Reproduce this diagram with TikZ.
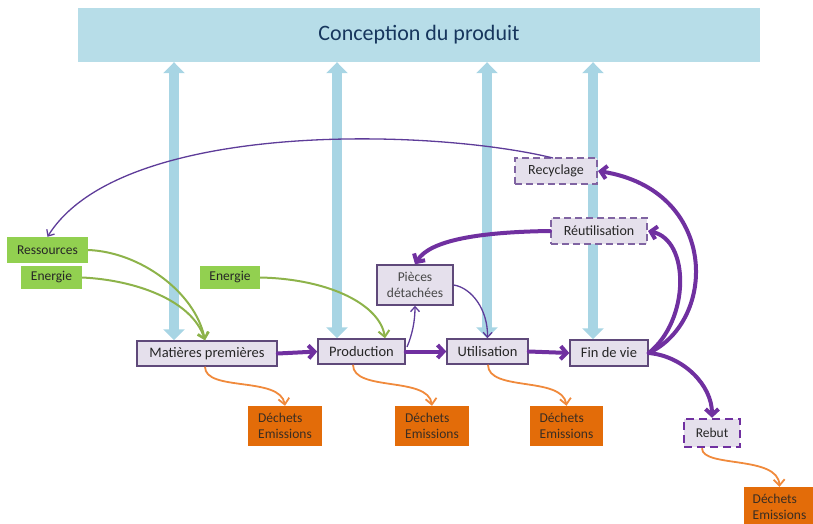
\documentclass[tikz,border=0pt]{standalone}
\usepackage{fontspec}
\setmainfont{Carlito}
\usetikzlibrary{arrows.meta}
\definecolor{topblue}{HTML}{B7DDE8}
\definecolor{arrblue}{HTML}{A8D5E4}
\definecolor{lav}{HTML}{E5E0EC}
\definecolor{boxline}{HTML}{5F497A}
\definecolor{dashline}{HTML}{8064A2}
\definecolor{purp}{HTML}{7030A0}
\definecolor{thinpurp}{HTML}{5E3C99}
\definecolor{grn}{HTML}{92D050}
\definecolor{grnarr}{HTML}{8DB34A}
\definecolor{orng}{HTML}{E36C09}
\definecolor{orarr}{HTML}{F08A3C}
\definecolor{navy}{HTML}{17365D}
\definecolor{txt}{HTML}{262626}
\tikzset{
  topbox/.style={fill=topblue, draw=none, text=navy, font=\fontsize{22}{26}\selectfont},
  mainbox/.style={fill=lav, draw=boxline, line width=1.5pt, text=txt, font=\fontsize{14.5}{17}\selectfont, inner sep=0pt},
  piecebox/.style={fill=lav, draw=boxline, line width=1.5pt, text=txt!85, font=\fontsize{13.5}{15.5}\selectfont, inner sep=0pt, align=center},
  dashbox/.style={fill=lav, draw=dashline, line width=2pt, dash pattern=on 7pt off 4pt, text=txt, font=\fontsize{14}{17}\selectfont, inner sep=0pt},
  rebutbox/.style={fill=lav, draw=purp, line width=2.5pt, dash pattern=on 8pt off 5pt, text=txt, font=\fontsize{13.5}{16}\selectfont, inner sep=0pt},
  greenbox/.style={fill=grn, draw=none, text=txt, font=\fontsize{13.5}{16}\selectfont, inner sep=0pt},
  orbox/.style={fill=orng, draw=none, text=txt!90!orng, font=\fontsize{13.5}{16}\selectfont, align=left, inner sep=0pt},
  bluearr/.style={draw=arrblue, line width=10pt, {Triangle[length=11pt,width=21pt]}-{Triangle[length=11pt,width=21pt]}},
  thickarr/.style={draw=purp, line width=4pt, -{Straight Barb[length=6pt,width=13pt]}, line cap=round},
  thinarr/.style={draw=thinpurp, line width=1.3pt, -{Straight Barb[length=5pt,width=9pt]}},
  grnarrow/.style={draw=grnarr, line width=2pt, -{Straight Barb[length=6pt,width=11pt]}},
  orarrow/.style={draw=orarr, line width=1.8pt, -{Straight Barb[length=6pt,width=11pt]}},
}
\begin{document}
\begin{tikzpicture}[x=1pt,y=-1pt]
\useasboundingbox (0,0) rectangle (813,524);
% top box
\node[topbox, minimum width=682pt, minimum height=54pt] (concept) at (419,35) {Conception du produit};
% helper x positions
\coordinate (b1) at (174,0);
\coordinate (b2) at (337,0);
\coordinate (b3) at (487,0);
\coordinate (b4) at (593,0);
\coordinate (g1) at (205,0);
\coordinate (g2) at (385,0);
\coordinate (o1) at (205,0);
\coordinate (o2) at (353,0);
\coordinate (o3) at (488,0);
\coordinate (o4) at (702,0);
\coordinate (pp) at (407,347);
\coordinate (rs) at (553,158);
% main nodes
\node[mainbox, minimum width=140pt, minimum height=25pt] (mat) at (207,353.5) {Matières premières};
\node[mainbox, minimum width=87pt, minimum height=25pt] (prod) at (361.5,351.5) {Production};
\node[mainbox, minimum width=81pt, minimum height=25pt] (util) at (487.5,351.5) {Utilisation};
\node[mainbox, minimum width=78pt, minimum height=26pt] (fin) at (609,353) {Fin de vie};
% blue arrows (behind the boxes)
\draw[bluearr] (concept.south -| b1) -- (mat.north -| b1);
\draw[bluearr] (concept.south -| b2) -- (prod.north -| b2);
\draw[bluearr] (concept.south -| b3) -- (util.north -| b3);
\draw[bluearr] (concept.south -| b4) -- (fin.north -| b4);
\node[piecebox, minimum width=76pt, minimum height=40pt] (pieces) at (415,285) {Pièces\\détachées};
\node[dashbox, minimum width=82pt, minimum height=26pt] (recy) at (556,171) {Recyclage};
\node[dashbox, minimum width=96pt, minimum height=26pt] (reut) at (599,231) {Réutilisation};
\node[rebutbox, minimum width=56pt, minimum height=28pt] (rebut) at (712,433) {Rebut};
\node[greenbox, minimum width=81pt, minimum height=26pt] (ress) at (47.5,250) {Ressources};
\node[greenbox, minimum width=61pt, minimum height=23pt] (en1) at (51.5,277.5) {Energie};
\node[greenbox, minimum width=60pt, minimum height=23pt] (en2) at (230,277.5) {Energie};
\node[orbox, minimum width=74pt, minimum height=40pt] (d1) at (285,426) {Déchets\\Emissions};
\node[orbox, minimum width=74pt, minimum height=40pt] (d2) at (432,426) {Déchets\\Emissions};
\node[orbox, minimum width=73pt, minimum height=40pt] (d3) at (566.5,426) {Déchets\\Emissions};
\node[orbox, minimum width=71pt, minimum height=40pt] (d4) at (779.5,507) {Déchets\\Emissions};
% main flow
\draw[thickarr] (mat.east) -- (prod.west);
\draw[thickarr] (prod.east) -- (util.west);
\draw[thickarr] (util.east) -- (fin.west);
% end of life loops
\draw[thickarr] (fin.east) .. controls (683,356) and (712,385) .. (rebut.north);
\draw[thickarr] (fin.east) .. controls (718,320) and (718,190) .. (recy.east);
\draw[thickarr] (fin.east) .. controls (690,320) and (690,240) .. (reut.east);
\draw[thickarr] (reut.west) .. controls (480,232) and (430,240) .. (pieces.north);
% thin purple
\draw[thinarr] (rs) .. controls (430,128) and (120,120) .. (ress.north);
\draw[thinarr] (pp) .. controls (412,335) and (415,322) .. (pieces.south);
\draw[thinarr] (pieces.east) .. controls (472,288) and (488,310) .. (util.north);
% green
\draw[grnarrow] (ress.east) .. controls (140,252) and (195,292) .. (mat.north -| g1);
\draw[grnarrow] (en1.east) .. controls (135,280) and (192,300) .. (mat.north -| g1);
\draw[grnarrow] (en2.east) .. controls (330,279) and (380,305) .. (prod.north -| g2);
% orange
\draw[orarrow] (mat.south -| o1) .. controls (205,392) and (280,376) .. (d1.north);
\draw[orarrow] (prod.south -| o2) .. controls (353,392) and (428,376) .. (d2.north);
\draw[orarrow] (util.south -| o3) .. controls (488,392) and (562,376) .. (d3.north);
\draw[orarrow] (rebut.south -| o4) .. controls (702,468) and (778,455) .. (d4.north);
\end{tikzpicture}
\end{document}
